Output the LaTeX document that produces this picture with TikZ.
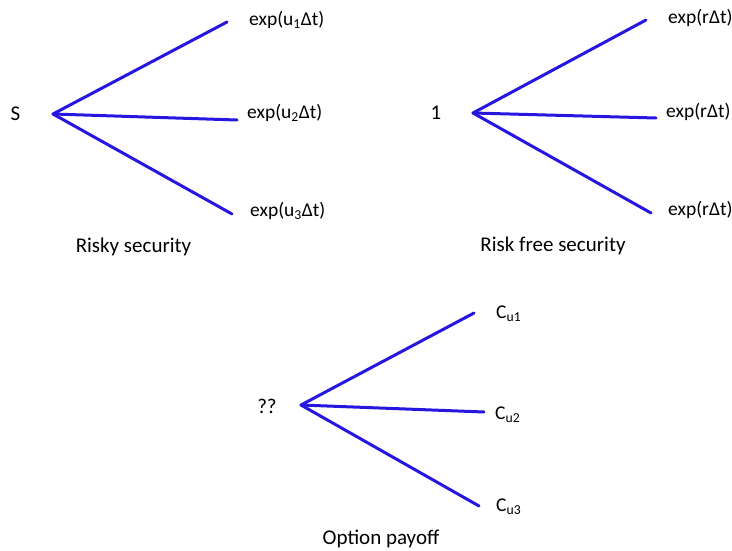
\documentclass[tikz,border=0pt]{standalone}
\usepackage{fontspec}
\setmainfont{Carlito}
\definecolor{branch}{RGB}{38,22,224}
\begin{document}
\begin{tikzpicture}[x=1pt,y=-1pt,
  branchline/.style={draw=branch,line width=3pt,line cap=round},
  lbl/.style={anchor=west,inner sep=0pt,font=\fontsize{19.5}{22}\selectfont},
  captext/.style={inner sep=0pt,font=\fontsize{21}{24}\selectfont}]
\useasboundingbox (0,0) rectangle (732,551);
% Tree 1
\coordinate (o1) at (53,114);
\coordinate (a1) at (227,22);
\coordinate (b1) at (237,120);
\coordinate (c1) at (232,214);
\draw[branchline] (o1) -- (a1);
\draw[branchline] (o1) -- (b1);
\draw[branchline] (o1) -- (c1);
\node[captext] (s) at (15.5,114) {S};
\node[lbl] (la1) at (249,20) {exp(u\textsubscript{1}Δt)};
\node[lbl] (lb1) at (247,113) {exp(u\textsubscript{2}Δt)};
\node[lbl] (lc1) at (250,211) {exp(u\textsubscript{3}Δt)};
\node[captext] (t1) at (133.5,247) {Risky security};
% Tree 2
\coordinate (o2) at (473,113);
\coordinate (a2) at (646,20);
\coordinate (b2) at (656,118);
\coordinate (c2) at (651,213);
\draw[branchline] (o2) -- (a2);
\draw[branchline] (o2) -- (b2);
\draw[branchline] (o2) -- (c2);
\node[captext] (one) at (436,113) {1};
\node[lbl] (la2) at (668,18) {exp(rΔt)};
\node[lbl] (lb2) at (666,112) {exp(rΔt)};
\node[lbl] (lc2) at (668,210) {exp(rΔt)};
\node[captext] (t2) at (553,246) {Risk free security};
% Tree 3
\coordinate (o3) at (301,405);
\coordinate (a3) at (474,313);
\coordinate (b3) at (484,412);
\coordinate (c3) at (479,506);
\draw[branchline] (o3) -- (a3);
\draw[branchline] (o3) -- (b3);
\draw[branchline] (o3) -- (c3);
\node[captext] (q) at (267,406) {??};
\node[lbl] (la3) at (496,314) {C\textsubscript{u1}};
\node[lbl] (lb3) at (495,415) {C\textsubscript{u2}};
\node[lbl] (lc3) at (496,507) {C\textsubscript{u3}};
\node[captext] (t3) at (381,539) {Option payoff};
\end{tikzpicture}
\end{document}
